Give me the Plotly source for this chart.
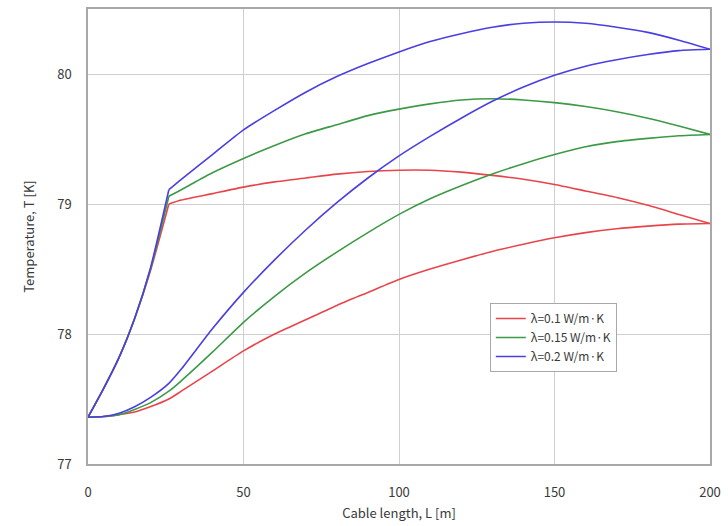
import plotly.graph_objects as go

# Shared steep inlet segment (cable start)
x_steep = [0, 5, 10, 15, 20, 26]
y_steep_red = [77.36, 77.58, 77.82, 78.12, 78.48, 79.00]
y_steep_green = [77.36, 77.58, 77.82, 78.12, 78.49, 79.06]
y_steep_blue = [77.36, 77.58, 77.82, 78.12, 78.50, 79.11]

# Upper (return) branch
x_upper = [26, 30, 40, 50, 60, 70, 80, 90, 100, 110, 120, 130, 140, 150, 160, 170, 180, 190, 200]
y_upper_red = [79.00, 79.03, 79.08, 79.13, 79.17, 79.20, 79.23, 79.25, 79.26, 79.26, 79.245, 79.22,
               79.19, 79.15, 79.10, 79.05, 78.99, 78.92, 78.85]
y_upper_green = [79.06, 79.11, 79.24, 79.35, 79.45, 79.54, 79.61, 79.68, 79.73, 79.77, 79.80, 79.81,
                 79.80, 79.78, 79.75, 79.71, 79.66, 79.60, 79.535]
y_upper_blue = [79.11, 79.19, 79.38, 79.57, 79.72, 79.86, 79.98, 80.08, 80.17, 80.25, 80.31, 80.36,
                80.39, 80.40, 80.39, 80.36, 80.32, 80.26, 80.19]

# Lower (outgoing) branch
x_lower = [0, 5, 10, 15, 20, 26, 30, 40, 50, 60, 70, 80, 90, 100, 110, 120, 130, 140, 150, 160,
           170, 180, 190, 200]
y_lower_red = [77.36, 77.365, 77.38, 77.40, 77.44, 77.50, 77.56, 77.715, 77.87, 78.00, 78.11, 78.22,
               78.32, 78.42, 78.50, 78.57, 78.635, 78.69, 78.74, 78.78, 78.81, 78.83, 78.845, 78.85]
y_lower_green = [77.36, 77.365, 77.38, 77.42, 77.47, 77.56, 77.64, 77.86, 78.09, 78.29, 78.47, 78.63,
                 78.78, 78.92, 79.04, 79.14, 79.23, 79.31, 79.38, 79.44, 79.48, 79.505, 79.525, 79.535]
y_lower_blue = [77.36, 77.365, 77.39, 77.44, 77.51, 77.62, 77.73, 78.04, 78.32, 78.57, 78.80, 79.01,
                79.20, 79.37, 79.52, 79.66, 79.79, 79.90, 79.99, 80.06, 80.11, 80.15, 80.18, 80.19]

names = ["λ=0.1 W/m·K", "λ=0.15 W/m·K", "λ=0.2 W/m·K"]
colors = ["#e8454a", "#3c9a46", "#4a3fe0"]

series = [
    (y_steep_red, y_upper_red, y_lower_red),
    (y_steep_green, y_upper_green, y_lower_green),
    (y_steep_blue, y_upper_blue, y_lower_blue),
]

fig = go.Figure()
for name, color, (ys, yu, yl) in zip(names, colors, series):
    line = dict(color=color, width=1.6, shape="spline", smoothing=0.6)
    fig.add_trace(go.Scatter(x=x_lower, y=yl, mode="lines", line=line, name=name,
                             legendgroup=name, showlegend=True))
    fig.add_trace(go.Scatter(x=x_upper, y=yu, mode="lines", line=line, name=name,
                             legendgroup=name, showlegend=False))
    fig.add_trace(go.Scatter(x=x_steep, y=ys, mode="lines", line=line, name=name,
                             legendgroup=name, showlegend=False))

font_family = "Noto Sans CJK JP, Noto Sans, sans-serif"
fig.update_layout(
    width=728, height=526,
    margin=dict(l=88, r=15, t=7, b=61),
    paper_bgcolor="white", plot_bgcolor="white",
    font=dict(family=font_family, size=12, color="#3a3a3a"),
    showlegend=True,
    legend=dict(x=0.646, y=0.354, xanchor="left", yanchor="top",
                bgcolor="white", bordercolor="#a8a8a8", borderwidth=1,
                font=dict(size=12, color="#3a3a3a"), tracegroupgap=0,
                itemwidth=30),
    xaxis=dict(range=[0, 200], dtick=50, tick0=0, showgrid=True, gridcolor="#cfcfcf",
               showline=True, linecolor="#a8a8a8", linewidth=1.5, mirror=True, zeroline=False,
               ticks="", ticklabelstandoff=16, tickfont=dict(size=13),
               title=dict(text="Cable length, L [m]", standoff=9, font=dict(size=13))),
    yaxis=dict(range=[77, 80.5], dtick=1, tick0=77, showgrid=True, gridcolor="#cfcfcf",
               showline=True, linecolor="#a8a8a8", linewidth=1.5, mirror=True, zeroline=False,
               ticks="", ticklabelstandoff=12, tickfont=dict(size=13),
               title=dict(text="Temperature, T [K]", standoff=20, font=dict(size=13))),
)

fig.write_html("out.html")
